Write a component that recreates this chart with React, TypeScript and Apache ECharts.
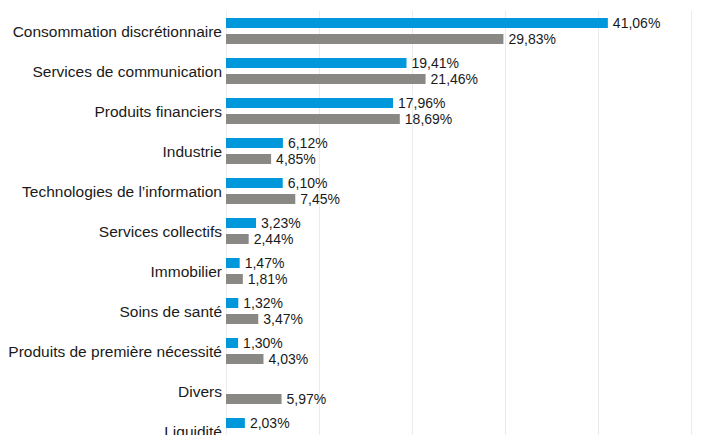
import React, { useEffect, useRef } from "react";
import * as echarts from "echarts";

const categories = [
  "Consommation discrétionnaire",
  "Services de communication",
  "Produits financiers",
  "Industrie",
  "Technologies de l\u2019information",
  "Services collectifs",
  "Immobilier",
  "Soins de santé",
  "Produits de première nécessité",
  "Divers",
  "Liquidité",
];

const fundValues: (number | null)[] = [41.06, 19.41, 17.96, 6.12, 6.1, 3.23, 1.47, 1.32, 1.3, null, 2.03];
const indexValues: (number | null)[] = [29.83, 21.46, 18.69, 4.85, 7.45, 2.44, 1.81, 3.47, 4.03, 5.97, null];

const FONT = "'Liberation Sans', Arial, sans-serif";

const fmt = (p: any) =>
  p.value == null ? "" : Number(p.value).toFixed(2).replace(".", ",") + "%";

export default function App() {
  const ref = useRef<HTMLDivElement>(null);
  useEffect(() => {
    if (!ref.current) return;
    const chart = echarts.init(ref.current, undefined, { renderer: "svg" });
    chart.setOption({
      animation: false,
      backgroundColor: "#ffffff",
      grid: { left: 226, right: 16, top: 11, bottom: 9, containLabel: false },
      xAxis: {
        type: "value",
        min: 0,
        max: 50,
        interval: 10,
        axisLabel: { show: false },
        axisLine: { show: false },
        axisTick: { show: false },
        splitLine: { show: true, lineStyle: { color: "#ebebeb", width: 1 } },
      },
      yAxis: {
        type: "category",
        data: categories,
        inverse: true,
        axisLine: { show: false },
        axisTick: { show: false },
        axisLabel: { margin: 4, color: "#1a1a1a", fontSize: 15.5, fontFamily: FONT },
      },
      series: [
        {
          name: "Fonds",
          type: "bar",
          data: fundValues,
          barWidth: 10,
          barGap: "60%",
          itemStyle: { color: "#0098da" },
          label: {
            show: true,
            position: "right",
            distance: 5,
            formatter: fmt,
            color: "#1a1a1a",
            fontSize: 14,
            fontFamily: FONT,
          },
        },
        {
          name: "Indice",
          type: "bar",
          data: indexValues,
          barWidth: 10,
          barGap: "60%",
          itemStyle: { color: "#8a8884" },
          label: {
            show: true,
            position: "right",
            distance: 5,
            formatter: fmt,
            color: "#1a1a1a",
            fontSize: 14,
            fontFamily: FONT,
          },
        },
      ],
    });
    return () => chart.dispose();
  }, []);
  return (
    <div
      ref={ref}
      style={{ position: "fixed", left: 0, top: 0, width: 707, height: 460 }}
    />
  );
}
